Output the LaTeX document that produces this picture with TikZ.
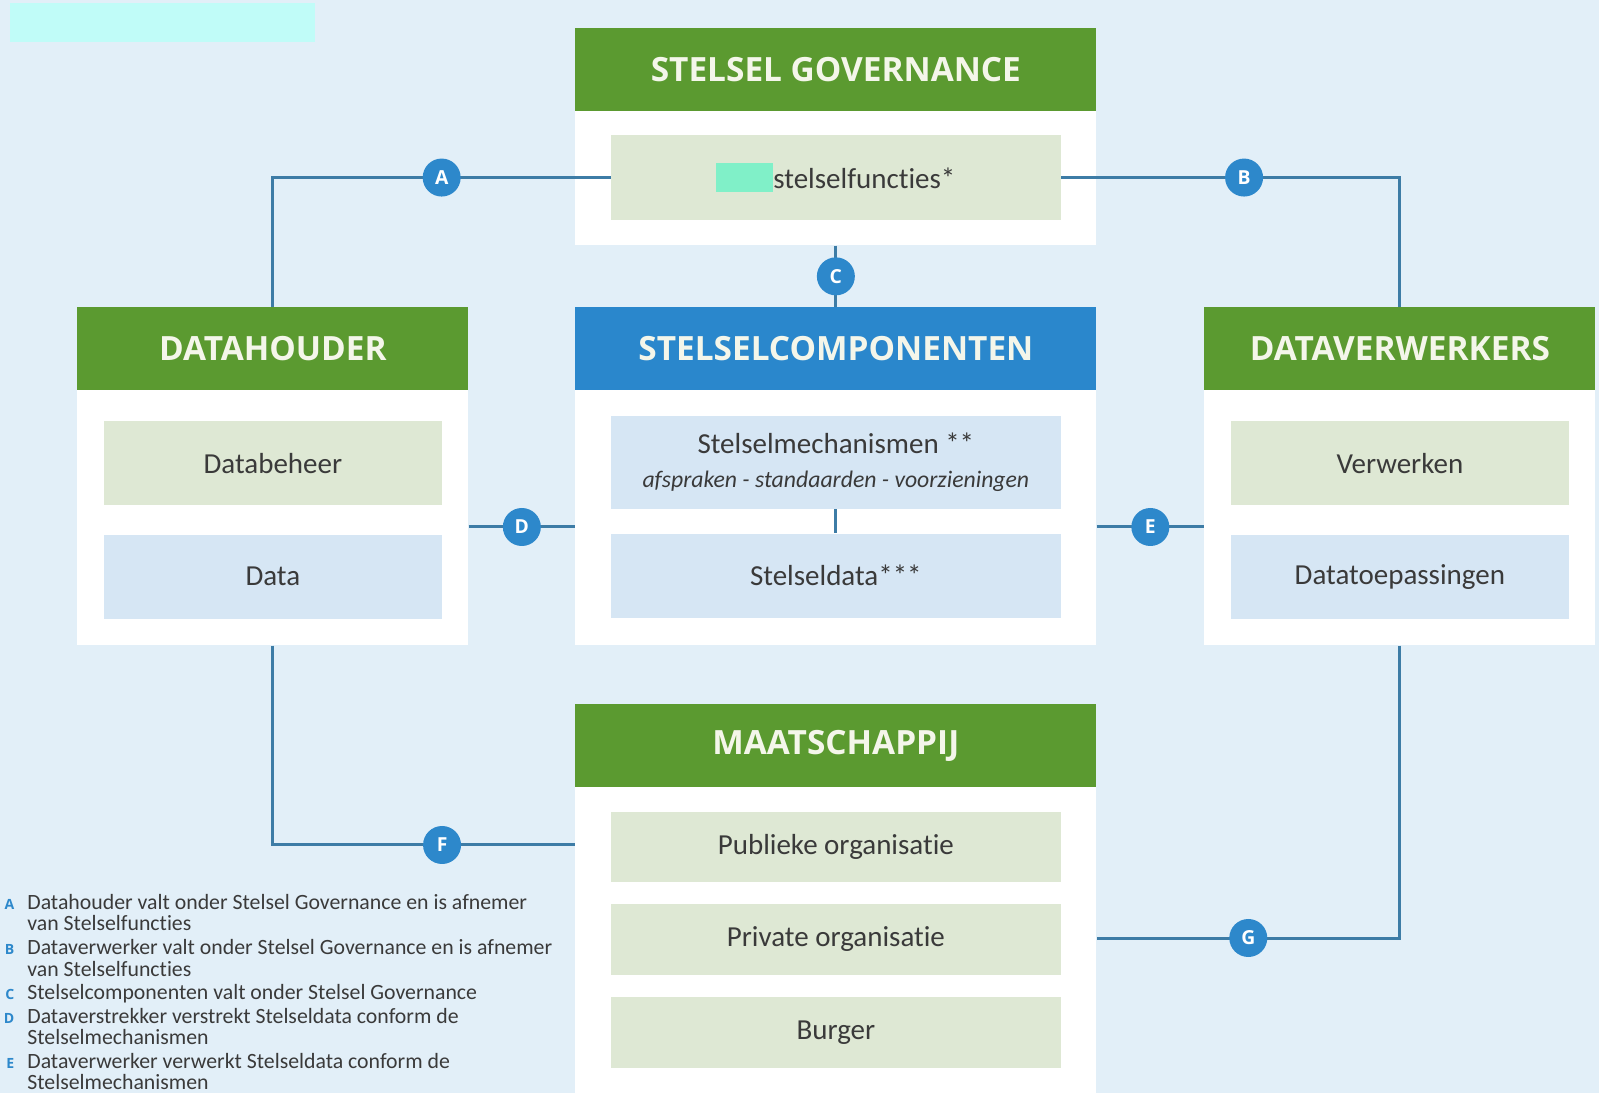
\documentclass[tikz,border=0pt]{standalone}
\usepackage{fontspec}
\setmainfont{Carlito}[Ligatures=NoCommon]
\newfontfamily\hdrfamily{Open Sans}
\usepackage{xcolor}
\usetikzlibrary{positioning}
\definecolor{bgblue}{HTML}{E2EFF8}
\definecolor{hdrgreen}{HTML}{5B9A30}
\definecolor{hdrblue}{HTML}{2A87CC}
\definecolor{cellgreen}{HTML}{DEE8D4}
\definecolor{cellblue}{HTML}{D6E6F4}
\definecolor{linkblue}{HTML}{3D7CA6}
\definecolor{tagblue}{HTML}{2D88CB}
\definecolor{ink}{HTML}{3A3A3A}
\definecolor{hdrtext}{HTML}{F4F6EA}
\definecolor{redcyan}{HTML}{C0FCF8}
\definecolor{redmint}{HTML}{80F0C8}
\newcommand{\key}[1]{\textcolor{tagblue}{\hdrfamily\bfseries\fontsize{8}{8}\selectfont #1}}
\tikzset{
  panel/.style  = {rectangle, fill=white, inner sep=0pt, anchor=north west},
  hdr/.style    = {rectangle, fill=#1, text=hdrtext, inner sep=0pt, minimum height=16.6mm,
                   anchor=north, font=\hdrfamily\bfseries\fontsize{19}{19}\selectfont},
  cell/.style   = {rectangle, fill=#1, inner sep=0pt, minimum height=16.8mm, align=center,
                   text=ink, font=\fontsize{16.5}{19.4}\selectfont},
  link/.style   = {line width=0.6mm, draw=linkblue},
  tag/.style    = {circle, fill=tagblue, text=white, inner sep=0pt, minimum size=7.6mm,
                   font=\hdrfamily\bfseries\fontsize{11}{11}\selectfont},
  legend/.style = {align=left, inner sep=0pt, anchor=north west, text=ink,
                   font=\fontsize{12.4}{12.2}\selectfont},
}
\begin{document}
\begin{tikzpicture}[x=0.2mm, y=-0.2mm]
  \fill[bgblue] (0,0) rectangle (1599,1093);
  \useasboundingbox (0,0) rectangle (1599,1093);
  \fill[redcyan] (10,3) rectangle (315,42);
  % panels
  \node[panel, minimum width=104.2mm, minimum height=43.4mm] (gov) at (575,28) {};
  \node[panel, minimum width=78.2mm, minimum height=67.6mm] (dh) at (77,307) {};
  \node[panel, minimum width=104.2mm, minimum height=67.6mm] (comp) at (575,307) {};
  \node[panel, minimum width=78.2mm, minimum height=67.6mm] (dv) at (1204,307) {};
  \node[panel, minimum width=104.2mm, minimum height=77.8mm] (maat) at (575,704) {};
  % headers
  \node[hdr=hdrgreen, minimum width=104.2mm] (govH) at (gov.north) {STELSEL GOVERNANCE};
  \node[hdr=hdrgreen, minimum width=78.2mm] (dhH) at (dh.north) {DATAHOUDER};
  \node[hdr=hdrblue, minimum width=104.2mm] (compH) at (comp.north) {STELSELCOMPONENTEN};
  \node[hdr=hdrgreen, minimum width=78.2mm] (dvH) at (dv.north) {DATAVERWERKERS};
  \node[hdr=hdrgreen, minimum width=104.2mm] (maatH) at (maat.north) {MAATSCHAPPIJ};
  % cells
  \node[cell=cellgreen, minimum width=90mm, minimum height=17mm, below=4.6mm of govH] (funcs)
    {\textcolor{redmint}{\rule[-0.8mm]{11.4mm}{5.8mm}}stelselfuncties*\raisebox{-0.6mm}{}};
  \node[cell=cellgreen, minimum width=67.6mm, below=6mm of dhH] (beheer) {Databeheer};
  \node[cell=cellblue, minimum width=67.6mm, below=5.8mm of beheer] (data) {Data};
  \node[cell=cellblue, minimum width=90mm, minimum height=18.6mm, below=5mm of compH] (mech)
    {Stelselmechanismen **\\{\itshape\fontsize{13.5}{19.4}\selectfont afspraken - standaarden - voorzieningen}};
  \node[cell=cellblue, minimum width=90mm, below=4.8mm of mech] (sdata) {Stelseldata***};
  \node[cell=cellgreen, minimum width=67.6mm, below=6mm of dvH] (verw) {Verwerken};
  \node[cell=cellblue, minimum width=67.6mm, below=5.8mm of verw] (toep) {Datatoepassingen};
  \node[cell=cellgreen, minimum width=90mm, minimum height=14mm, below=4.8mm of maatH] (publ) {Publieke organisatie};
  \node[cell=cellgreen, minimum width=90mm, minimum height=14.2mm, below=4.2mm of publ] (priv) {Private organisatie};
  \node[cell=cellgreen, minimum width=90mm, minimum height=14.2mm, below=4.4mm of priv] (burg) {Burger};
  % connectors
  \draw[link] (mech.south) -- (sdata.north);
  \draw[link] (funcs.west) -| node[tag, pos=0.25] (tA) {A} (dh.north);
  \draw[link] (funcs.east) -| node[tag, pos=0.27] (tB) {B} (dv.north);
  \draw[link] (gov.south) -- node[tag] (tC) {C} (comp.north);
  \draw[link] (dh.east |- 0,527) -- node[tag] (tD) {D} (comp.west |- 0,527);
  \draw[link] (comp.east |- 0,527) -- node[tag] (tE) {E} (dv.west |- 0,527);
  \draw[link] (dh.south) |- node[tag, pos=0.78] (tF) {F} (maat.west |- 0,845);
  \draw[link] (dv.south) |- node[tag, pos=0.75] (tG) {G} (maat.east |- 0,938);
  % legend
  \node[legend] (legend) at (27,894)
    {\llap{\key{A}\hspace{2.6mm}}Datahouder valt onder Stelsel Governance en is afnemer\\
     van Stelselfuncties\\[0.45mm]
     \llap{\key{B}\hspace{2.6mm}}Dataverwerker valt onder Stelsel Governance en is afnemer\\
     van Stelselfuncties\\[0.45mm]
     \llap{\key{C}\hspace{2.6mm}}Stelselcomponenten valt onder Stelsel Governance\\[0.45mm]
     \llap{\key{D}\hspace{2.6mm}}Dataverstrekker verstrekt Stelseldata conform de\\
     Stelselmechanismen\\[0.45mm]
     \llap{\key{E}\hspace{2.6mm}}Dataverwerker verwerkt Stelseldata conform de\\
     Stelselmechanismen};
\end{tikzpicture}
\end{document}
